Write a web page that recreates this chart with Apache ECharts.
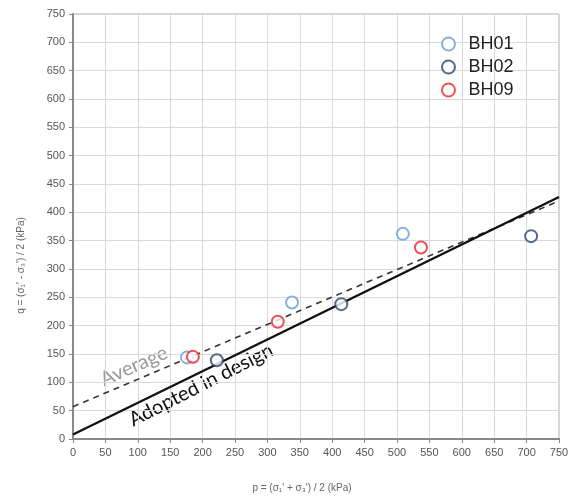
<!DOCTYPE html>
<html><head><meta charset="utf-8">
<script src="https://cdn.jsdelivr.net/npm/echarts@6/dist/echarts.min.js"></script>
<style>html,body{margin:0;padding:0;background:#fff}#c{width:574px;height:501px}</style>
</head><body><div id="c"></div>
<script>
const seriesNames = ['BH01', 'BH02', 'BH09'];
const bh01 = [[176,144],[338,241],[509,362]];
const bh02 = [[222,139],[414,238],[707,358]];
const bh09 = [[185,145],[316,207],[537,338]];
const averageLine = [[0,57],[750,420]];
const adoptedLine = [[0,8],[750,427]];
const colors = ['#6a9bd8', '#2b4470', '#e8262a'];

const chart = echarts.init(document.getElementById('c'), null, {renderer:'canvas'});
const axisCommon = {
  min: 0, max: 750, interval: 50,
  axisLine: {show:true, lineStyle:{color:'#888', width:2}},
  axisTick: {show:true, inside:false, length:4, lineStyle:{color:'#888'}},
  axisLabel: {color:'#555', fontSize:11, fontFamily:'Liberation Sans, Arial'},
  splitLine: {show:true, lineStyle:{color:'#d9d9d9', width:1}},
  nameTextStyle: {color:'#666', fontSize:10, fontFamily:'Liberation Sans, Arial'}
};
const mk = (name, data, color) => ({
  name, type:'scatter', data, symbol:'circle', symbolSize:12,
  itemStyle:{color:'#fff', borderColor:color, borderWidth:2}, z:5
});
chart.setOption({
  animation:false,
  grid:{left:73, right:15, top:14, bottom:62, show:true, borderColor:'#aaa', borderWidth:1},
  legend:{
    data: seriesNames, orient:'vertical', left:436, top:30, itemGap:5,
    itemWidth:22, itemHeight:13,
    textStyle:{color:'#222', fontSize:18, fontFamily:'Liberation Sans, Arial', padding:[0,0,0,4]}
  },
  xAxis: Object.assign({}, axisCommon, {
    type:'value', name:"p = (σ\u2081' + σ\u2083') / 2 (kPa)", nameLocation:'middle', nameGap:44,
    nameTextStyle: Object.assign({}, axisCommon.nameTextStyle, {padding:[0,28,0,0]}),
    axisLabel: Object.assign({}, axisCommon.axisLabel, {margin:8})
  }),
  yAxis: Object.assign({}, axisCommon, {
    type:'value', name:"q = (σ\u2081' - σ\u2083') / 2 (kPa)", nameLocation:'middle', nameGap:47,
    nameTextStyle: Object.assign({}, axisCommon.nameTextStyle, {padding:[0,0,0,-78]}),
    axisLabel: Object.assign({}, axisCommon.axisLabel, {margin:8})
  }),
  series:[
    {name:'Average', type:'line', data:averageLine, symbol:'none', lineStyle:{color:'#333', width:1.6, type:[6,5]}, z:3, silent:true},
    {name:'Adopted', type:'line', data:adoptedLine, symbol:'none', lineStyle:{color:'#111', width:2.4}, z:3, silent:true},
    mk(seriesNames[0], bh01, colors[0]),
    mk(seriesNames[1], bh02, colors[1]),
    mk(seriesNames[2], bh09, colors[2])
  ],
  graphic:[
    {type:'text', x:134, y:366, rotation:24*Math.PI/180,
     style:{text:'Average', fill:'#9a9a9a', fontSize:20, fontFamily:'Lato, Liberation Sans, Arial', align:'center', verticalAlign:'middle'}},
    {type:'text', x:201, y:385, rotation:27*Math.PI/180,
     style:{text:'Adopted in design', fill:'#111', fontSize:20, fontFamily:'Lato, Liberation Sans, Arial', align:'center', verticalAlign:'middle'}}
  ]
});
</script></body></html>
